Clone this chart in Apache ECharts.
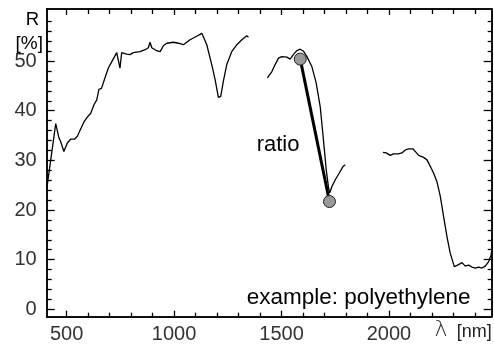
<!DOCTYPE html>
<html>
<head>
<meta charset="utf-8">
<script src="https://cdn.jsdelivr.net/npm/echarts@6/dist/echarts.min.js"></script>
<style>html,body{margin:0;padding:0;background:#fff;}#c{width:494px;height:351px;}</style>
</head>
<body>
<div id="c"></div>
<script>
// Reflectance spectrum of polyethylene, segments (wavelength nm, R %)
var curveVis = [[408,24.5],[449,37.4],[464,34.5],[472,33.8],[487,31.8],[503,33.5],[519,34.3],[537,34.3],[549,34.8],[565,36.3],[581,37.8],[596,38.7],[612,39.5],[627,41.2],[640,42.2],[650,44.3],[662,44.5],[678,46.6],[694,48.6],[710,49.9],[733,51.7],[748,48.6],[756,51.7],[764,51.6],[779,51.4],[795,51.3],[810,51.7],[841,51.9],[865,52.3],[880,52.7],[888,53.8],[896,52.7],[919,52.1],[935,51.9],[950,53.1],[966,53.6],[997,53.8],[1020,53.6],[1043,53.3],[1074,54.3],[1105,55.0],[1129,55.6],[1136,55.6],[1152,53.3],[1175,49.3],[1191,46.2],[1206,42.7],[1217,42.9],[1229,45.9],[1245,49.3],[1268,51.9],[1292,53.3],[1315,54.3],[1338,55.1],[1346,54.8]];
var curveNir1 = [[1434,46.6],[1455,47.9],[1470,49.3],[1486,50.6],[1501,50.9],[1525,50.8],[1540,50.4],[1555,51.3],[1571,52.1],[1587,52.4],[1602,52.0],[1618,50.9],[1641,48.9],[1661,45.6],[1680,40.8],[1695,34.1],[1708,28.1],[1718,24.7],[1724,23.4],[1734,24.7],[1750,26.1],[1758,25.7],[1768,27.4],[1776,27.7],[1785,28.7],[1790,29.1],[1796,29.1]];
var curveNir2 = [[1972,31.6],[1987,31.5],[2006,31.0],[2021,31.3],[2044,31.3],[2060,31.5],[2076,32.1],[2091,32.3],[2112,32.3],[2122,31.8],[2138,31.0],[2161,30.6],[2177,30.1],[2192,28.8],[2208,27.4],[2223,25.7],[2239,22.7],[2254,18.7],[2270,14.6],[2285,11.3],[2304,8.6],[2319,8.9],[2340,9.4],[2355,8.7],[2371,8.9],[2386,8.5],[2402,8.3],[2417,8.5],[2433,8.3],[2448,8.7],[2464,9.6],[2475,10.9],[2479,12.0]];
var ratioPoints = [[1587,50.4],[1723,21.7]];

var xMajorTicks = [500,1000,1500,2000];
var xMinorTicks = [600,700,800,900,1100,1200,1300,1400,1600,1700,1800,1900,2100,2200,2300,2400];
var yMajorTicks = [0,10,20,30,40,50];
var yMinorTicks = [2,4,6,8,12,14,16,18,22,24,26,28,32,34,36,38,42,44,46,48,52,54,56,58];

var X_MIN = 407, X_MAX = 2478, Y_MIN = -1.5, Y_MAX = 60.5;
var FONT = '"Liberation Sans", Arial, Helvetica, sans-serif';
var gridRect = {left: 46.7, right: 2.3, top: 9, bottom: 34.3, containLabel: false};
function plain(v) { return String(v); }

function xAx(gi, pos, ticks, len, labels) {
  return {
    type: 'value', gridIndex: gi, position: pos, min: X_MIN, max: X_MAX,
    axisLine: {show: true, onZero: false, lineStyle: {color: '#000', width: 1.5}},
    axisTick: {show: true, inside: true, length: len, customValues: ticks, lineStyle: {color: '#000', width: 1.3}},
    axisLabel: labels ? {show: true, customValues: ticks, formatter: plain, margin: 8, color: '#333', fontSize: 20, fontFamily: FONT} : {show: false},
    splitLine: {show: false}
  };
}
function yAx(gi, pos, ticks, len, labels) {
  return {
    type: 'value', gridIndex: gi, position: pos, min: Y_MIN, max: Y_MAX,
    axisLine: {show: true, onZero: false, lineStyle: {color: '#000', width: 1.5}},
    axisTick: {show: true, inside: true, length: len, customValues: ticks, lineStyle: {color: '#000', width: 1.3}},
    axisLabel: labels ? {show: true, customValues: ticks, formatter: plain, margin: 10, color: '#333', fontSize: 20, fontFamily: FONT} : {show: false},
    splitLine: {show: false}
  };
}

var lineStyleThin = {color: '#000', width: 1.3};
var chart = echarts.init(document.getElementById('c'), null, {renderer: 'canvas'});
chart.setOption({
  animation: false,
  backgroundColor: '#fff',
  grid: [gridRect, Object.assign({}, gridRect)],
  xAxis: [
    xAx(0, 'bottom', xMajorTicks, 6, true),
    xAx(0, 'top', xMajorTicks, 6, false),
    xAx(1, 'bottom', xMinorTicks, 4, false),
    xAx(1, 'top', xMinorTicks, 5, false)
  ],
  yAxis: [
    yAx(0, 'left', yMajorTicks, 8, true),
    yAx(0, 'right', yMajorTicks, 8, false),
    yAx(1, 'left', yMinorTicks, 5, false),
    yAx(1, 'right', yMinorTicks, 4, false)
  ],
  series: [
    {type: 'line', xAxisIndex: 0, yAxisIndex: 0, data: curveVis, showSymbol: false, lineStyle: lineStyleThin, z: 3},
    {type: 'line', xAxisIndex: 0, yAxisIndex: 0, data: curveNir1, showSymbol: false, lineStyle: lineStyleThin, z: 3},
    {type: 'line', xAxisIndex: 0, yAxisIndex: 0, data: curveNir2, showSymbol: false, lineStyle: lineStyleThin, z: 3},
    {type: 'line', xAxisIndex: 0, yAxisIndex: 0, data: ratioPoints, symbol: 'circle', symbolSize: 12, showSymbol: true,
     lineStyle: {color: '#000', width: 3}, itemStyle: {color: '#999', borderColor: '#222', borderWidth: 1}, z: 4}
  ],
  graphic: [
    {type: 'text', x: 32.5, y: 19.5, style: {text: 'R', fontSize: 18.5, fontFamily: FONT, fill: '#000', align: 'center', verticalAlign: 'middle'}},
    {type: 'text', x: 29.3, y: 43.5, style: {text: '[%]', fontSize: 19, fontFamily: FONT, fill: '#000', align: 'center', verticalAlign: 'middle'}},
    {type: 'text', x: 256.7, y: 145.2, style: {text: 'ratio', fontSize: 22, fontFamily: FONT, fill: '#000', align: 'left', verticalAlign: 'middle'}},
    {type: 'text', x: 246.7, y: 298, style: {text: 'example: polyethylene', fontSize: 22.5, fontFamily: FONT, fill: '#000', align: 'left', verticalAlign: 'middle'}},
    {type: 'text', x: 441, y: 330, style: {text: 'λ', fontSize: 22, fontFamily: '"DejaVu Sans", sans-serif', fontWeight: 'lighter', fill: '#222', align: 'center', verticalAlign: 'middle'}},
    {type: 'text', x: 491.7, y: 332.5, style: {text: '[nm]', fontSize: 18, fontFamily: FONT, fill: '#222', align: 'right', verticalAlign: 'middle'}}
  ]
});
</script>
</body>
</html>
